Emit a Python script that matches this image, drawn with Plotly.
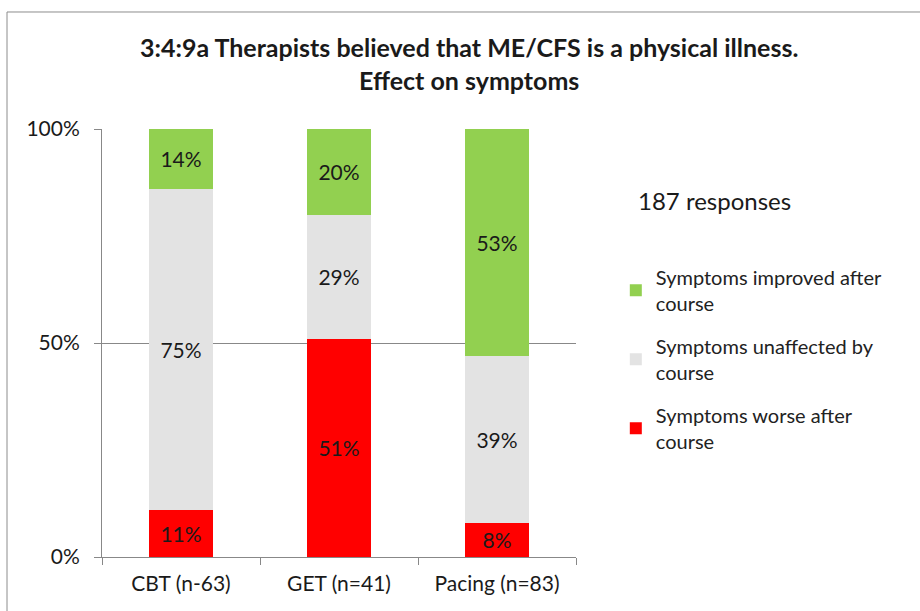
import plotly.graph_objects as go

categories = ["CBT (n-63)", "GET (n=41)", "Pacing (n=83)"]
worse = [11, 51, 8]
unaffected = [75, 29, 39]
improved = [14, 20, 53]
series_names = ["Symptoms worse after<br>course", "Symptoms unaffected by<br>course", "Symptoms improved after<br>course"]
series_colors = ["#FF0000", "#E3E3E3", "#92D050"]
legend_ranks = [3, 2, 1]
yticks = [0, 50, 100]
yticklabels = ["0%", "50%", "100%"]

FONT = "Lato, Carlito, Calibri, sans-serif"

fig = go.Figure()
for i, (name, vals, col) in enumerate(zip(series_names, [worse, unaffected, improved], series_colors)):
    fig.add_trace(go.Bar(
        x=categories, y=vals, name=name,
        marker=dict(color=col, line=dict(width=0)),
        text=[f"{v}%" for v in vals], texttemplate="%{text}",
        textposition="inside", insidetextanchor="middle",
        textfont=dict(size=21, color="#1a1a1a", family=FONT),
        constraintext="none", legendgroup=f"g{i}", legendrank=legend_ranks[i],
    ))

fig.update_layout(
    width=920, height=611,
    barmode="stack", bargap=0.6,
    paper_bgcolor="white", plot_bgcolor="white",
    margin=dict(l=102, r=344, t=129, b=54),
    font=dict(family=FONT, size=20, color="#1a1a1a"),
    title=dict(
        text="<b>3:4:9a Therapists believed that ME/CFS is a physical illness.<br>Effect on symptoms</b>",
        x=0.51, xref="container", xanchor="center", y=0.906, yanchor="top",
        font=dict(size=25, family=FONT, color="#1a1a1a"),
    ),
    xaxis=dict(
        showline=True, linecolor="#888888", linewidth=1,
        ticks="outside", tickson="boundaries", ticklen=7, tickcolor="#888888",
        tickfont=dict(size=21), showgrid=False, ticklabelstandoff=8,
    ),
    yaxis=dict(
        range=[0, 100], tickvals=yticks, ticktext=yticklabels,
        showline=True, linecolor="#888888", linewidth=1,
        ticks="outside", ticklen=7, tickcolor="#888888",
        showgrid=True, gridcolor="#888888", gridwidth=1,
        tickfont=dict(size=21), zeroline=False, ticklabelstandoff=10,
    ),
    legend=dict(
        x=1.084, xanchor="left", y=0.699, yanchor="top",
        traceorder="grouped", tracegroupgap=14,
        font=dict(size=20, color="#222222", family=FONT),
        itemwidth=30, bgcolor="rgba(0,0,0,0)",
    ),
    annotations=[dict(
        text="187 responses", xref="paper", yref="paper",
        x=1.1266, y=0.832, xanchor="left", yanchor="middle",
        showarrow=False, font=dict(size=24, color="#1a1a1a", family=FONT),
    )],
    shapes=[dict(
        type="rect", xref="paper", yref="paper",
        x0=-0.2004, x1=1.75, y0=-0.3, y1=1.2734,
        line=dict(color="#8c8c8c", width=1), layer="above",
    )],
)

fig.write_html("out.html", config={"displayModeBar": False},
               post_script="document.body.style.margin='0';")
